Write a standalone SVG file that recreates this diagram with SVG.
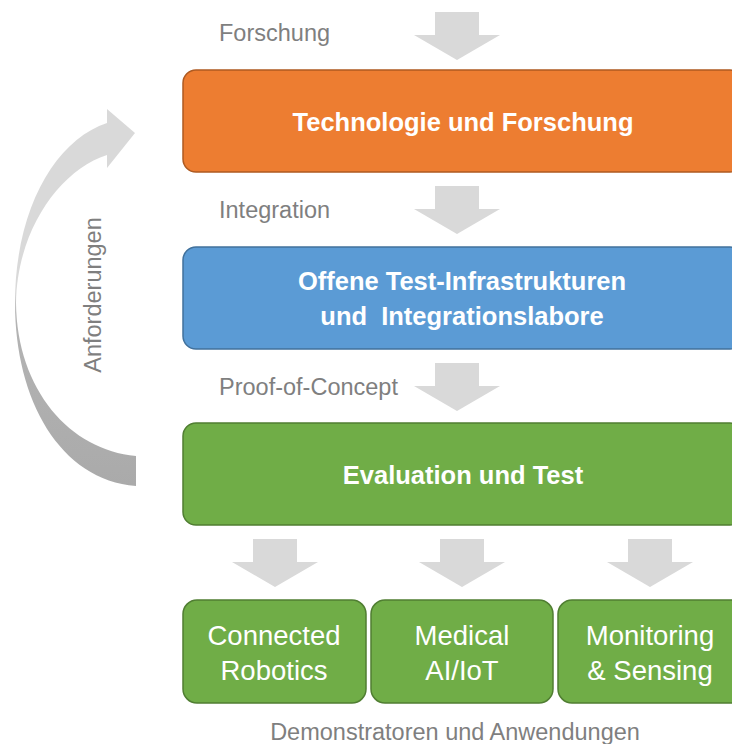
<svg xmlns="http://www.w3.org/2000/svg" width="732" height="744" viewBox="0 0 732 744">
  <defs>
    <style>
      .lbl { font-family: "Liberation Sans", Arial, sans-serif; font-size: 23.5px; fill: #7f7f7f; }
      .head { font-family: "Liberation Sans", Arial, sans-serif; font-size: 25.5px; font-weight: bold; fill: #ffffff; text-anchor: middle; }
      .app { font-family: "Liberation Sans", Arial, sans-serif; font-size: 27.5px; fill: #ffffff; text-anchor: middle; }
      .arrow { fill: #d9d9d9; }
      .orange { fill: #ed7d31; stroke: #ae5a21; stroke-width: 1.5; }
      .blue { fill: #5b9bd5; stroke: #41719c; stroke-width: 1.5; }
      .green { fill: #70ad47; stroke: #507e32; stroke-width: 1.5; }
    </style>
    <linearGradient id="loopGrad" gradientUnits="userSpaceOnUse" x1="0" y1="108" x2="0" y2="487">
      <stop offset="0" stop-color="#d9d9d9"/>
      <stop offset="0.48" stop-color="#d9d9d9"/>
      <stop offset="0.54" stop-color="#b4b4b4"/>
      <stop offset="1" stop-color="#aaaaaa"/>
    </linearGradient>
    <path id="down" d="M-22,0 H22 V23 H43 L0,48 L-43,23 H-22 Z"/>
  </defs>

  <!-- feedback loop on the left -->
  <g id="loop">
    <path fill="url(#loopGrad)" d="M136,486 C60,480 15,400 15,303 C15,210 55,140 107,123 L107,109 L135,133 L107,168 L107,155 C60,170 17,230 16,303 C17,390 70,450 136,456 Z"/>
    <text class="lbl" transform="translate(101,295) rotate(-90)" text-anchor="middle">Anforderungen</text>
  </g>

  <!-- flow arrows -->
  <g id="connectors">
    <use href="#down" class="arrow" x="457" y="12"/>
    <use href="#down" class="arrow" x="457" y="186"/>
    <use href="#down" class="arrow" x="457" y="363"/>
    <use href="#down" class="arrow" x="275" y="539"/>
    <use href="#down" class="arrow" x="462" y="539"/>
    <use href="#down" class="arrow" x="650" y="539"/>
  </g>

  <!-- stage labels -->
  <g id="labels">
    <text class="lbl" x="219" y="41">Forschung</text>
    <text class="lbl" x="219" y="218">Integration</text>
    <text class="lbl" x="219" y="395">Proof-of-Concept</text>
    <text class="lbl" x="455" y="740" text-anchor="middle">Demonstratoren und Anwendungen</text>
  </g>

  <g id="technologie">
    <rect class="orange" x="183" y="70" width="560" height="102" rx="13"/>
    <text class="head" x="463" y="131">Technologie und Forschung</text>
  </g>

  <g id="infrastruktur">
    <rect class="blue" x="183" y="247" width="560" height="102" rx="13"/>
    <text class="head" x="462" y="290">Offene Test-Infrastrukturen</text>
    <text class="head" x="462" y="325" xml:space="preserve">und  Integrationslabore</text>
  </g>

  <g id="evaluation">
    <rect class="green" x="183" y="423" width="560" height="102" rx="13"/>
    <text class="head" x="463" y="484">Evaluation und Test</text>
  </g>

  <g id="robotics">
    <rect class="green" x="183" y="600" width="183" height="103" rx="14"/>
    <text class="app" x="274" y="645">Connected</text>
    <text class="app" x="274" y="680">Robotics</text>
  </g>

  <g id="medical">
    <rect class="green" x="371" y="600" width="182" height="103" rx="14"/>
    <text class="app" x="462" y="645">Medical</text>
    <text class="app" x="462" y="680">AI/IoT</text>
  </g>

  <g id="monitoring">
    <rect class="green" x="558" y="600" width="190" height="103" rx="14"/>
    <text class="app" x="650" y="645">Monitoring</text>
    <text class="app" x="650" y="680">&amp; Sensing</text>
  </g>
</svg>
